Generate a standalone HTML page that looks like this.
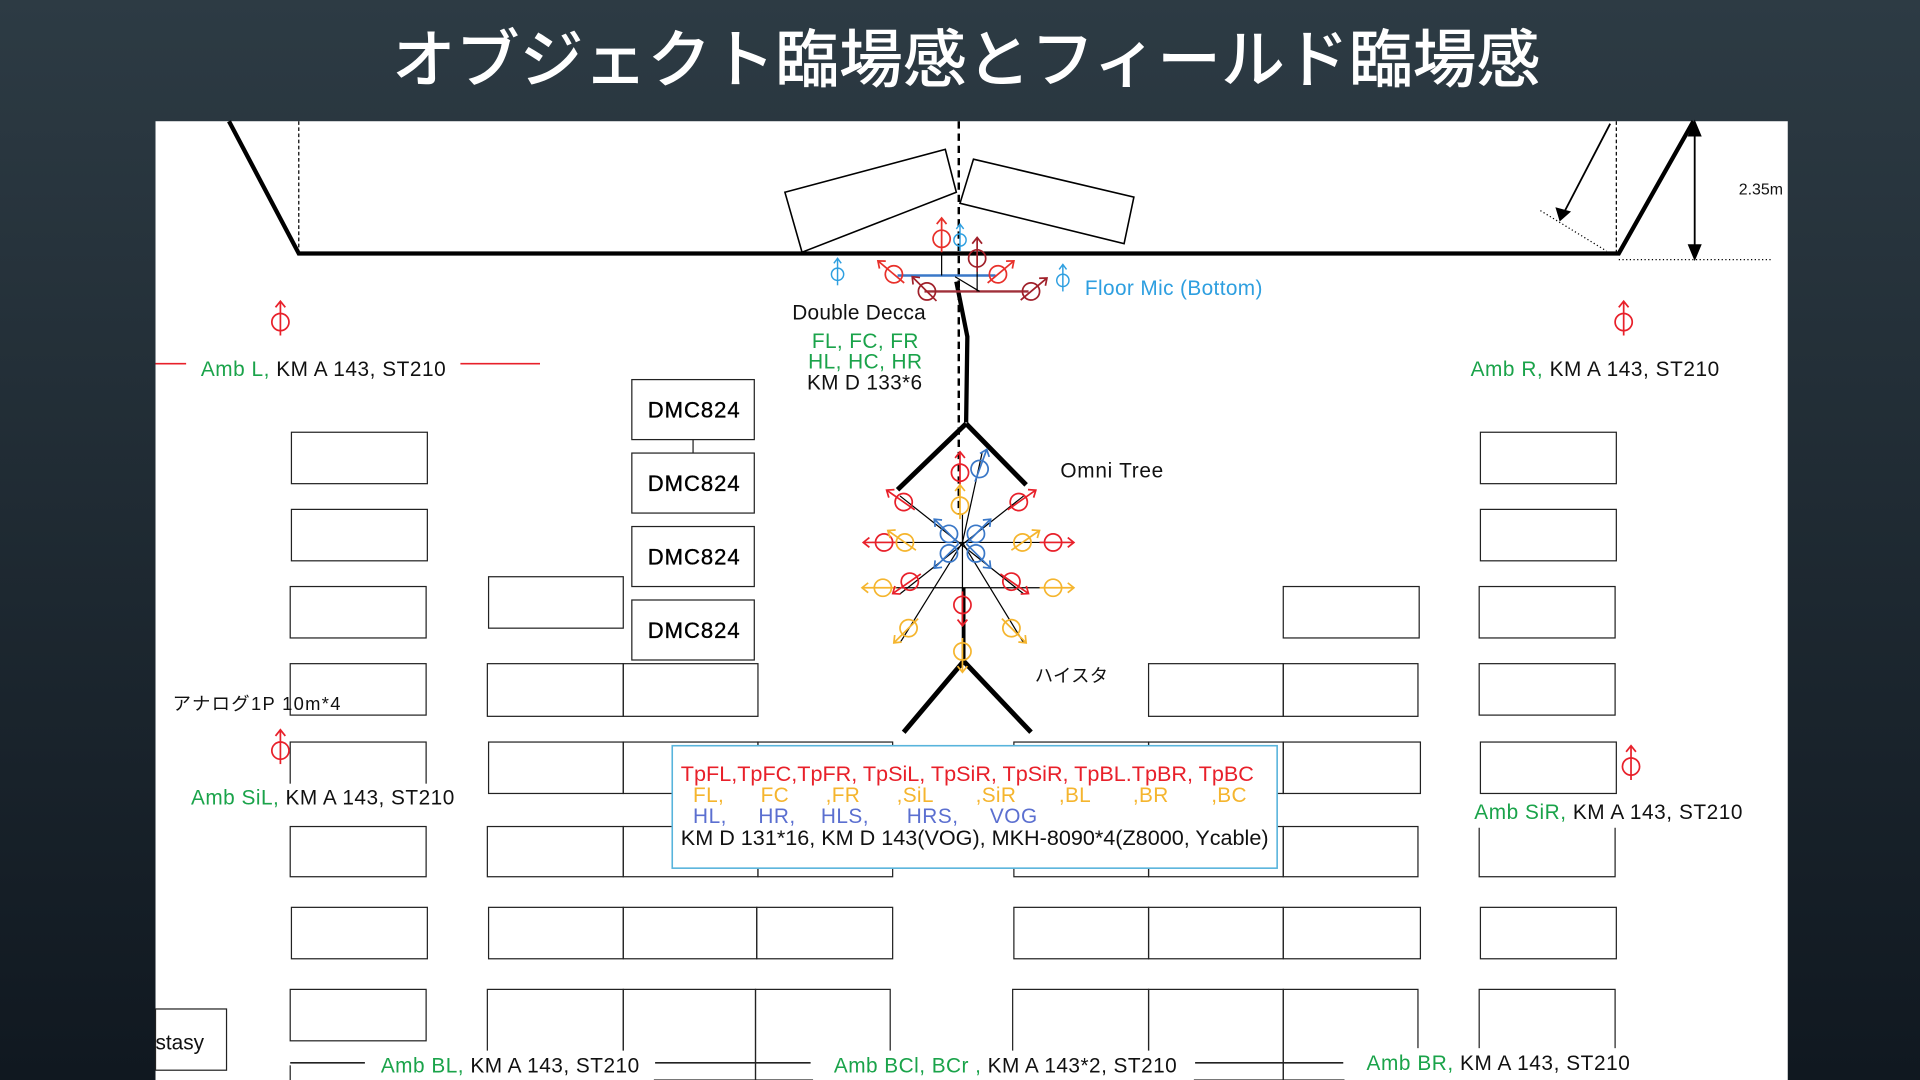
<!DOCTYPE html>
<html><head><meta charset="utf-8"><style>
html,body{margin:0;padding:0;width:1920px;height:1080px;overflow:hidden;background:linear-gradient(#2d3b44,#101820);}
svg{display:block}
text{font-family:"Liberation Sans","Noto Sans CJK JP",sans-serif;}
</style></head><body>
<svg width="1920" height="1080" viewBox="0 0 1568 882" xmlns="http://www.w3.org/2000/svg">
<defs>
<linearGradient id="bg" x1="0" y1="0" x2="0" y2="1"><stop offset="0" stop-color="#2d3b44"/><stop offset="1" stop-color="#101820"/></linearGradient>
<g id="m" fill="none" stroke-width="1.4"><circle r="7"/><line x1="0" y1="11" x2="0" y2="-17"/><polyline points="-4,-12 0,-17 4,-12"/></g>
<g id="s" fill="none" stroke-width="1.2"><circle r="5"/><line x1="0" y1="9" x2="0" y2="-13"/><polyline points="-3,-9 0,-13 3,-9"/></g>
</defs>
<rect width="1568" height="882" fill="url(#bg)"/>
<text x="320" y="67" fill="#fff" font-size="52" textLength="938" lengthAdjust="spacingAndGlyphs" font-family="Noto Sans CJK JP, sans-serif" font-weight="500">オブジェクト臨場感とフィールド臨場感</text>
<rect x="127" y="99" width="1333" height="783" fill="#fff"/>

<!-- seats -->
<g fill="none" stroke="#222" stroke-width="1">
<rect x="238" y="353" width="111" height="42"/><rect x="238" y="416" width="111" height="42"/><rect x="237" y="479" width="111" height="42"/><rect x="237" y="542" width="111" height="42"/><rect x="237" y="606" width="111" height="42"/><rect x="237" y="675" width="111" height="41"/><rect x="238" y="741" width="111" height="42"/><rect x="237" y="808" width="111" height="42"/><line x1="237" y1="870" x2="237" y2="882"/>
<rect x="399" y="471" width="110" height="42"/>
<rect x="398" y="542" width="111" height="43"/><rect x="509" y="542" width="110" height="43"/>
<rect x="399" y="606" width="110" height="42"/><rect x="509" y="606" width="110" height="42"/><rect x="619" y="606" width="110" height="42"/>
<rect x="398" y="675" width="111" height="41"/><rect x="509" y="675" width="110" height="41"/><rect x="619" y="675" width="110" height="41"/>
<rect x="399" y="741" width="110" height="42"/><rect x="509" y="741" width="109" height="42"/><rect x="618" y="741" width="111" height="42"/>
<rect x="398" y="808" width="111" height="74"/><rect x="509" y="808" width="108" height="74"/><rect x="617" y="808" width="110" height="74"/>
<rect x="1048" y="479" width="111" height="42"/>
<rect x="938" y="542" width="110" height="43"/><rect x="1048" y="542" width="110" height="43"/>
<rect x="828" y="606" width="110" height="42"/><rect x="938" y="606" width="110" height="42"/><rect x="1048" y="606" width="112" height="42"/>
<rect x="828" y="675" width="110" height="41"/><rect x="938" y="675" width="110" height="41"/><rect x="1048" y="675" width="110" height="41"/>
<rect x="828" y="741" width="110" height="42"/><rect x="938" y="741" width="110" height="42"/><rect x="1048" y="741" width="112" height="42"/>
<rect x="827" y="808" width="111" height="74"/><rect x="938" y="808" width="110" height="74"/><rect x="1048" y="808" width="110" height="74"/>
<rect x="1209" y="353" width="111" height="42"/><rect x="1209" y="416" width="111" height="42"/><rect x="1208" y="479" width="111" height="42"/><rect x="1208" y="542" width="111" height="42"/><rect x="1209" y="606" width="111" height="42"/><rect x="1208" y="675" width="111" height="41"/><rect x="1209" y="741" width="111" height="42"/><rect x="1208" y="808" width="111" height="74"/>
<rect x="127" y="824" width="58" height="50"/>
</g>

<!-- stage -->
<g stroke="#000" fill="none">
<polyline points="187,99 244,207 1322,207 1383,99" stroke-width="3.5"/>
<line x1="244" y1="99" x2="244" y2="207" stroke-width="1" stroke-dasharray="3,2"/>
<line x1="1320" y1="99" x2="1320" y2="207" stroke-width="1" stroke-dasharray="3,2"/>
<line x1="783" y1="99" x2="783" y2="420" stroke-width="2" stroke-dasharray="6,4"/>
<polygon points="641,157 772,122 781,157 655,206" fill="#fff" stroke-width="1.3"/>
<polygon points="795,130 926,161 918,199 784,166" fill="#fff" stroke-width="1.3"/>
<line x1="1384" y1="103" x2="1384" y2="208" stroke-width="1.5"/>
<polygon points="1379,111 1384,99 1389,111" fill="#000"/>
<polygon points="1379,200 1384,212 1389,200" fill="#000"/>
<line x1="1322" y1="212" x2="1447" y2="212" stroke-width="1" stroke-dasharray="1,2"/>
<line x1="1315" y1="101" x2="1276" y2="176" stroke-width="1.5"/>
<polygon points="1271,170 1274,180 1282,173" fill="#000"/>
<line x1="1258" y1="172" x2="1312" y2="205" stroke-width="1" stroke-dasharray="1,2"/>
<polyline points="781,230 790,275 789,345" stroke-width="3.5"/>
<line x1="733" y1="400" x2="789" y2="346" stroke-width="4"/>
<line x1="789" y1="346" x2="838" y2="396" stroke-width="4"/>
<line x1="787" y1="480" x2="787" y2="540" stroke-width="3"/>
<line x1="738" y1="598" x2="787" y2="540" stroke-width="4"/>
<line x1="787" y1="540" x2="842" y2="598" stroke-width="4"/>
</g>
<line x1="733" y1="225" x2="813" y2="225" stroke="#3a78c8" stroke-width="2"/>
<line x1="755" y1="238" x2="840" y2="238" stroke="#a0303a" stroke-width="2"/>
<line x1="769" y1="195" x2="769" y2="225" stroke="#000" stroke-width="1"/>
<line x1="798" y1="210" x2="798" y2="238" stroke="#000" stroke-width="1"/>
<line x1="780" y1="226" x2="800" y2="238" stroke="#000" stroke-width="1"/>
<use href="#m" transform="translate(769,195)" stroke="#e8302a"/>
<use href="#s" transform="translate(784,196)" stroke="#2e9fe0"/>
<use href="#m" transform="translate(798,211) " stroke="#a0202a"/>
<use href="#m" transform="translate(730,224) rotate(-50)" stroke="#e8302a"/>
<use href="#m" transform="translate(815,224) rotate(50)" stroke="#e8302a"/>
<use href="#m" transform="translate(757,238) rotate(-45)" stroke="#a0202a"/>
<use href="#m" transform="translate(842,238) rotate(50)" stroke="#a0202a"/>
<use href="#s" transform="translate(684,224)" stroke="#2e9fe0"/>
<use href="#s" transform="translate(868,229)" stroke="#2e9fe0"/>
<use href="#m" transform="translate(229,263)" stroke="#e8202a"/>
<use href="#m" transform="translate(1326,263)" stroke="#e8202a"/>
<use href="#m" transform="translate(229,613)" stroke="#e8202a"/>
<use href="#m" transform="translate(1332,626)" stroke="#e8202a"/>

<!-- omni tree lines -->
<g stroke="#000" stroke-width="1">
<line x1="712" y1="443" x2="875" y2="443"/><line x1="712" y1="480" x2="875" y2="480"/>
<line x1="735" y1="405" x2="836" y2="485"/><line x1="836" y1="405" x2="735" y2="485"/>
<line x1="735" y1="525" x2="786" y2="443"/><line x1="786" y1="443" x2="836" y2="525"/>
<line x1="786" y1="443" x2="802" y2="370"/><line x1="786" y1="420" x2="786" y2="545"/>
</g>
<g>
<use href="#m" transform="translate(784,386)" stroke="#e8202a"/>
<use href="#m" transform="translate(800,383) rotate(20)" stroke="#3a78c8"/>
<use href="#m" transform="translate(738,410) rotate(-55)" stroke="#e8202a"/>
<use href="#m" transform="translate(832,410) rotate(55)" stroke="#e8202a"/>
<use href="#m" transform="translate(784,413)" stroke="#f5b52e"/>
<use href="#m" transform="translate(722,443) rotate(-90)" stroke="#e8202a"/>
<use href="#m" transform="translate(860,443) rotate(90)" stroke="#e8202a"/>
<use href="#m" transform="translate(739,443) rotate(-55)" stroke="#f5b52e"/>
<use href="#m" transform="translate(835,443) rotate(55)" stroke="#f5b52e"/>
<use href="#m" transform="translate(775,436) rotate(-45)" stroke="#3a78c8"/>
<use href="#m" transform="translate(797,436) rotate(45)" stroke="#3a78c8"/>
<use href="#m" transform="translate(775,452) rotate(-135)" stroke="#3a78c8"/>
<use href="#m" transform="translate(797,452) rotate(135)" stroke="#3a78c8"/>
<use href="#m" transform="translate(721,480) rotate(-90)" stroke="#f5b52e"/>
<use href="#m" transform="translate(860,480) rotate(90)" stroke="#f5b52e"/>
<use href="#m" transform="translate(743,475) rotate(-125)" stroke="#e8202a"/>
<use href="#m" transform="translate(826,475) rotate(125)" stroke="#e8202a"/>
<use href="#m" transform="translate(786,494) rotate(180)" stroke="#e8202a"/>
<use href="#m" transform="translate(742,513) rotate(-135)" stroke="#f5b52e"/>
<use href="#m" transform="translate(826,513) rotate(135)" stroke="#f5b52e"/>
<use href="#m" transform="translate(786,532) rotate(180)" stroke="#f5b52e"/>
</g>

<!-- DMC -->
<g fill="#fff" stroke="#222" stroke-width="1">
<line x1="566" y1="359" x2="566" y2="370"/>
<rect x="516" y="310" width="100" height="49"/><rect x="516" y="370" width="100" height="49"/><rect x="516" y="430" width="100" height="49"/><rect x="516" y="490" width="100" height="49"/>
</g>
<g font-size="18" fill="#000" stroke="#000" stroke-width="0.3">
<text x="529" y="341" textLength="75">DMC824</text><text x="529" y="401" textLength="75">DMC824</text><text x="529" y="461" textLength="75">DMC824</text><text x="529" y="521" textLength="75">DMC824</text>
</g>

<g fill="#fff">
<rect x="152" y="640" width="222" height="24"/><rect x="1200" y="652" width="226" height="24"/>
<rect x="298" y="858" width="236" height="24"/><rect x="664" y="858" width="311" height="24"/><rect x="1098" y="856" width="236" height="26"/>
</g>
<g stroke-width="1.3">
<line x1="127" y1="297" x2="152" y2="297" stroke="#e8202a"/><line x1="376" y1="297" x2="441" y2="297" stroke="#e8202a"/>
<line x1="237" y1="868" x2="298" y2="868" stroke="#222"/><line x1="535" y1="868" x2="662" y2="868" stroke="#222"/><line x1="976" y1="868" x2="1097" y2="868" stroke="#222"/>
</g>

<rect x="549" y="609" width="494" height="100" fill="#fff" stroke="#58b4dc" stroke-width="1.3"/>
<g font-size="17">
<text x="556" y="638" fill="#e8202a" textLength="468" lengthAdjust="spacingAndGlyphs">TpFL,TpFC,TpFR, TpSiL, TpSiR, TpSiR, TpBL.TpBR, TpBC</text>
<text x="566" y="655" fill="#f5b52e" xml:space="preserve" textLength="452">FL,      FC      ,FR      ,SiL       ,SiR       ,BL       ,BR       ,BC</text>
<text x="566" y="672" fill="#5b6fd0" xml:space="preserve" textLength="281">HL,     HR,    HLS,      HRS,     VOG</text>
<text x="556" y="690" fill="#111" textLength="480" lengthAdjust="spacingAndGlyphs">KM D 131*16, KM D 143(VOG), MKH-8090*4(Z8000, Ycable)</text>
</g>

<g font-size="17" fill="#111">
<text x="647" y="261" textLength="109">Double Decca</text>
<text x="663" y="284" fill="#1aa34a" textLength="87">FL, FC, FR</text>
<text x="660" y="301" fill="#1aa34a" textLength="93">HL, HC, HR</text>
<text x="659" y="318" textLength="94">KM D 133*6</text>
<text x="886" y="241" fill="#2e9fe0" textLength="145">Floor Mic (Bottom)</text>
<text x="866" y="390" textLength="84">Omni Tree</text>
<text x="845" y="557" font-family="Noto Sans CJK JP, sans-serif" font-size="15" textLength="60">ハイスタ</text>
<text x="141" y="580" font-size="15" textLength="137" font-family="Liberation Sans, Noto Sans CJK JP, sans-serif">アナログ1P 10m*4</text>
<text x="164" y="307" textLength="200"><tspan fill="#1aa34a">Amb L, </tspan>KM A 143, ST210</text>
<text x="1201" y="307" textLength="203"><tspan fill="#1aa34a">Amb R, </tspan>KM A 143, ST210</text>
<text x="156" y="657" textLength="215"><tspan fill="#1aa34a">Amb SiL, </tspan>KM A 143, ST210</text>
<text x="1204" y="669" textLength="219"><tspan fill="#1aa34a">Amb SiR, </tspan>KM A 143, ST210</text>
<text x="311" y="876" textLength="211"><tspan fill="#1aa34a">Amb BL, </tspan>KM A 143, ST210</text>
<text x="681" y="876" textLength="280"><tspan fill="#1aa34a">Amb BCl, BCr , </tspan>KM A 143*2, ST210</text>
<text x="1116" y="874" textLength="215"><tspan fill="#1aa34a">Amb BR, </tspan>KM A 143, ST210</text>
<text x="127" y="857" font-size="17">stasy</text>
<text x="1420" y="159" font-size="13">2.35m</text>
</g>
</svg>
</body></html>
